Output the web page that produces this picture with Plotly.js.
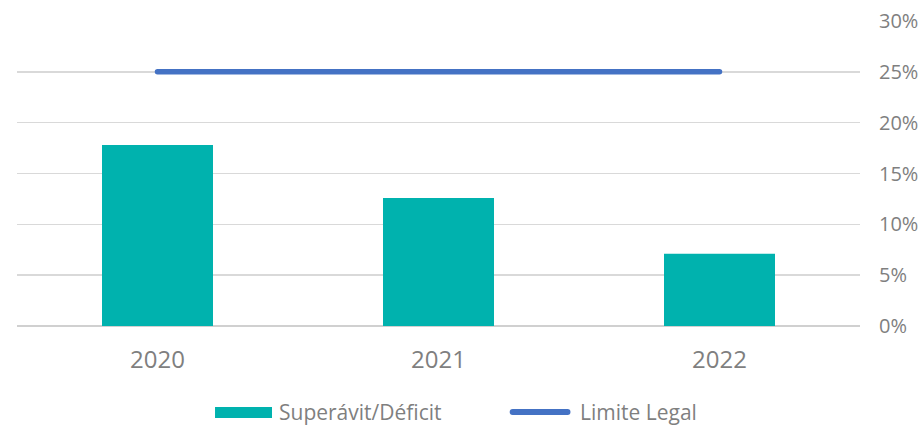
<!DOCTYPE html>
<html>
<head>
<meta charset="utf-8">
<script src="https://cdn.plot.ly/plotly-3.0.1.min.js"></script>
<style>
html,body{margin:0;padding:0;background:#fff;}
#chart{width:921px;height:425px;}
#chart .scatterlayer path.js-line{stroke-linecap:round;}
#chart .shapelayer path{stroke-linecap:round;}
</style>
</head>
<body>
<div id="chart"></div>
<script>
const years = ['2020', '2021', '2022'];
const superavit = [17.8, 12.6, 7.1];
const limiteLegal = [25, 25, 25];
const yTicks = [0, 5, 10, 15, 20, 25, 30];
const yTickText = yTicks.map(v => v + '%');
const seriesNames = ['Superávit/Déficit', 'Limite Legal'];
const barColor = '#00B2AE';
const lineColor = '#4472C4';

const traces = [
  {
    type: 'bar', name: seriesNames[0], x: years, y: superavit,
    marker: {color: barColor}, hoverinfo: 'none'
  },
  {
    type: 'scatter', mode: 'lines', name: seriesNames[1], x: years, y: limiteLegal,
    line: {color: lineColor, width: 5.5}, hoverinfo: 'none'
  }
];

// Manual legend (paper coordinates) to mimic the wide swatches of the original
const legY = -0.282;
const shapes = [
  {type: 'rect', xref: 'paper', yref: 'paper', x0: 0.2349, x1: 0.3025, y0: -0.3016, y1: -0.2656,
   fillcolor: barColor, line: {width: 0}},
  {type: 'line', xref: 'paper', yref: 'paper', x0: 0.5880, x1: 0.6530, y0: legY, y1: legY,
   line: {color: lineColor, width: 6}}
];
const annotations = [
  {xref: 'paper', yref: 'paper', x: 0.3084, y: legY, xanchor: 'left', yanchor: 'middle',
   text: seriesNames[0], showarrow: false, font: {size: 21, color: '#7f7f7f'}},
  {xref: 'paper', yref: 'paper', x: 0.6660, y: legY, xanchor: 'left', yanchor: 'middle',
   text: seriesNames[1], showarrow: false, font: {size: 21, color: '#7f7f7f'}}
];

const layout = {
  width: 921, height: 425,
  margin: {l: 17, r: 61, t: 21, b: 99},
  paper_bgcolor: '#ffffff', plot_bgcolor: '#ffffff',
  font: {family: 'Open Sans, sans-serif', color: '#7f7f7f', size: 17},
  bargap: 0.605,
  showlegend: false,
  shapes: shapes,
  annotations: annotations,
  xaxis: {
    type: 'category', showgrid: false, zeroline: false, showline: false,
    ticks: 'outside', ticklen: 12, tickcolor: 'rgba(0,0,0,0)',
    tickfont: {size: 24, color: '#7f7f7f'}
  },
  yaxis: {
    side: 'right', range: [0, 30], tickmode: 'array', tickvals: yTicks, ticktext: yTickText,
    showgrid: true, gridcolor: '#d9d9d9', gridwidth: 1.5,
    zeroline: true, zerolinecolor: '#d0d0d0', zerolinewidth: 1.5,
    ticks: 'outside', ticklen: 14, tickcolor: 'rgba(0,0,0,0)',
    tickfont: {size: 20, color: '#7f7f7f'}
  }
};

Plotly.newPlot('chart', traces, layout, {staticPlot: true, displayModeBar: false});
</script>
</body>
</html>
